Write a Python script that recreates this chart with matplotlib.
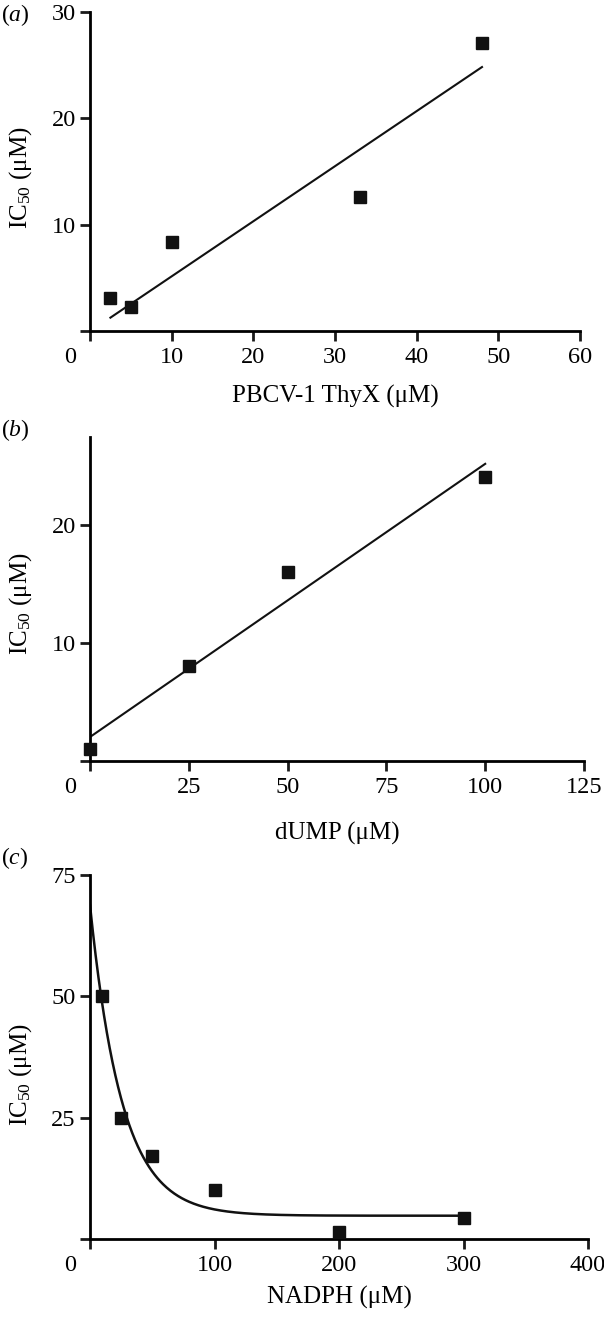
import numpy as np
import matplotlib
matplotlib.use('Agg')
import matplotlib.pyplot as plt
import matplotlib.transforms as mtransforms

plt.rcParams['font.family'] = ['Liberation Serif', 'DejaVu Serif']
plt.rcParams['mathtext.fontset'] = 'custom'
plt.rcParams['mathtext.rm'] = 'Liberation Serif'
plt.rcParams['mathtext.it'] = 'Liberation Serif:italic'

# (a) IC50 vs enzyme concentration
thyx_conc = [2.5, 5, 10, 33, 48]
ic50_a = [3.1, 2.3, 8.4, 12.6, 27.1]
fit_a = (0.518, -0.04)          # slope, intercept

# (b) IC50 vs dUMP
dump_conc = [0, 25, 50, 100]
ic50_b = [1.05, 8.0, 16.0, 24.0]
fit_b = (0.231, 2.03)

# (c) IC50 vs NADPH, one-phase decay fit
nadph_conc = [10, 25, 50, 100, 200, 300]
ic50_c = [50, 25, 17, 10, 1.4, 4.3]
fit_c = (64.0, 0.039, 4.8)      # span, rate, plateau

W, H = 604, 1321
fig = plt.figure(figsize=(W / 100, H / 100), dpi=100)


def rect(l, t, r, b):
    return [l / W, 1 - b / H, (r - l) / W, (b - t) / H]


def style(ax, xlim, xticks, ylim, yticks, xlabel, xlab_y, ylab_y, tag, tag_y):
    ax.set_xlim(*xlim)
    ax.set_ylim(*ylim)
    for s in ['top', 'right']:
        ax.spines[s].set_visible(False)
    for s in ['left', 'bottom']:
        ax.spines[s].set_linewidth(2.0)
    ax.set_xticks(xticks)
    ax.set_xticklabels([str(t) for t in xticks])
    ax.set_yticks(yticks)
    ax.set_yticklabels([''] + [str(t) for t in yticks[1:]])
    ax.tick_params(direction='out', length=7.2, width=2.0, labelsize=17.5,
                   color='#1a1a1a')
    ax.tick_params(axis='x', pad=4)
    ax.tick_params(axis='y', pad=3)
    ax.set_xlabel(xlabel, fontsize=18)
    ax.xaxis.label.set_va('center')
    ax.xaxis.set_label_coords(0.5, 1 - xlab_y / H, transform=mtransforms.blended_transform_factory(ax.transAxes, fig.transFigure))
    ax.set_ylabel('IC$_{50}$ (μM)', fontsize=18)
    ax.yaxis.label.set_va('center')
    ax.yaxis.set_label_coords(21 / W, 1 - ylab_y / H, transform=fig.transFigure)
    # the "0" label sits left of the y axis
    lab0 = ax.xaxis.get_major_ticks()[0].label1
    lab0.set_transform(lab0.get_transform() + mtransforms.ScaledTranslation(-0.2, 0, fig.dpi_scale_trans))
    fig.text(1 / W, 1 - tag_y / H, '($\\mathit{' + tag + '}$)', fontsize=17, va='center', ha='left')


mk = dict(marker='s', ms=8, color='#111111', ls='none', clip_on=False, zorder=3)

ax1 = fig.add_axes(rect(90, 12, 580, 331))
xa = np.linspace(min(thyx_conc), max(thyx_conc), 50)
ax1.plot(xa, fit_a[0] * xa + fit_a[1], color='#111111', lw=1.5)
ax1.plot(thyx_conc, ic50_a, **mk)
style(ax1, (0, 60), [0, 10, 20, 30, 40, 50, 60], (0, 30), [0, 10, 20, 30],
      'PBCV-1 ThyX (μM)', 396, 178, 'a', 15)

ax2 = fig.add_axes(rect(90, 437, 584, 761))
xb = np.linspace(min(dump_conc), max(dump_conc), 50)
ax2.plot(xb, fit_b[0] * xb + fit_b[1], color='#111111', lw=1.5)
ax2.plot(dump_conc, ic50_b, **mk)
style(ax2, (0, 125), [0, 25, 50, 75, 100, 125], (0, 27.4), [0, 10, 20],
      'dUMP (μM)', 833, 604, 'b', 430)

ax3 = fig.add_axes(rect(90, 875, 588, 1239))
xc = np.linspace(0, max(nadph_conc), 400)
ax3.plot(xc, fit_c[0] * np.exp(-fit_c[1] * xc) + fit_c[2], color='#111111', lw=1.8)
ax3.plot(nadph_conc, ic50_c, **mk)
style(ax3, (0, 400), [0, 100, 200, 300, 400], (0, 75), [0, 25, 50, 75],
      'NADPH (μM)', 1297, 1075, 'c', 858)

fig.savefig('out.png', dpi=100)
